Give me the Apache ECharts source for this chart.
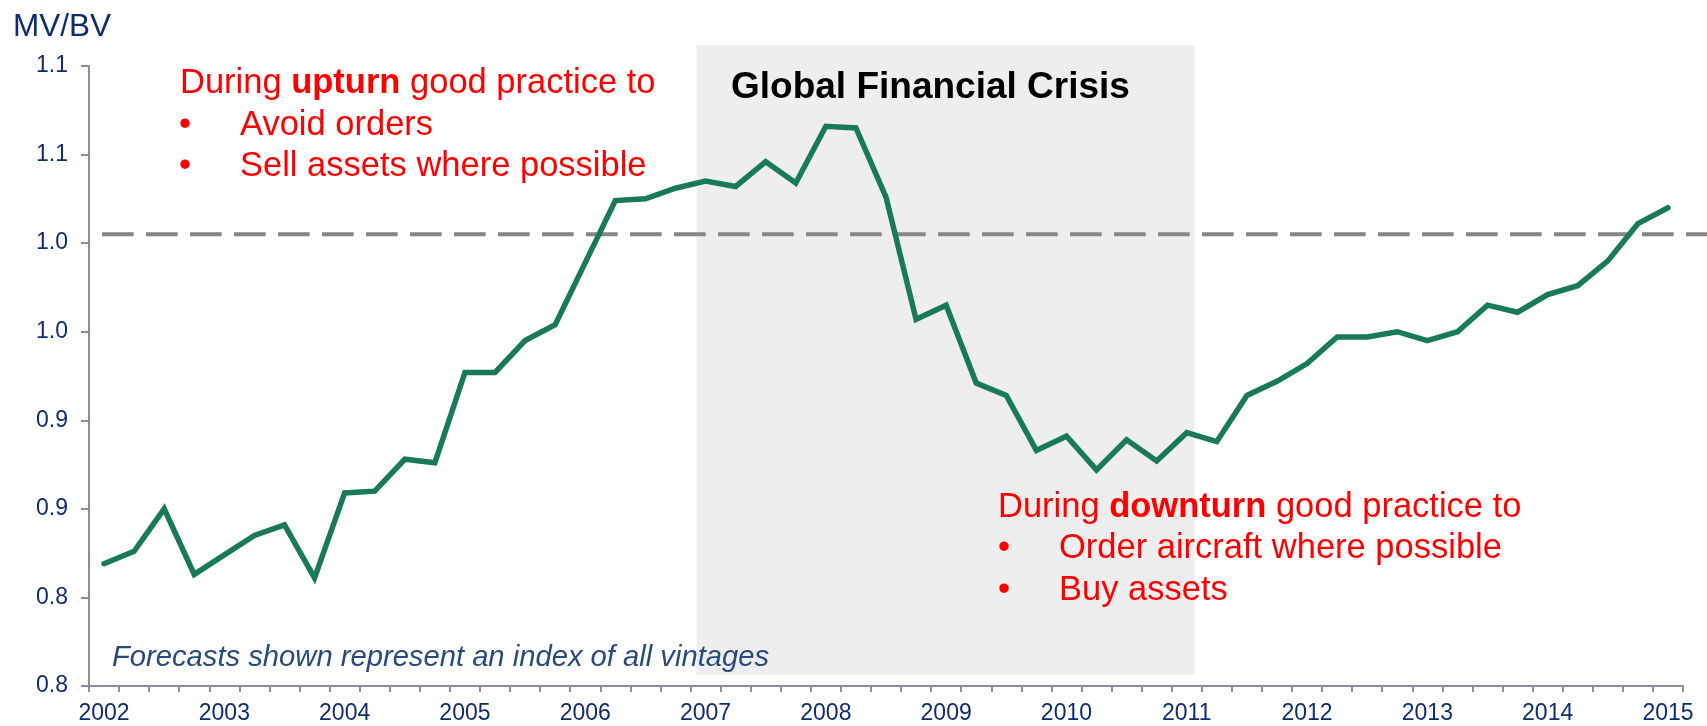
<!DOCTYPE html>
<html>
<head>
<meta charset="utf-8">
<script src="https://cdn.jsdelivr.net/npm/echarts@6/dist/echarts.min.js"></script>
<style>
  html, body { margin: 0; padding: 0; background: #ffffff; }
  #chart { width: 1707px; height: 726px; }
</style>
</head>
<body>
<div id="chart"></div>
<script>
// Years shown on the time axis; the series is quarterly from 2002 Q1 to 2015 Q1
const years = [2002, 2003, 2004, 2005, 2006, 2007, 2008, 2009, 2010, 2011, 2012, 2013, 2014, 2015];
const quarters = [];
years.forEach(function (y) {
  ['Q1', 'Q2', 'Q3', 'Q4'].forEach(function (q) { quarters.push(y + ' ' + q); });
});
quarters.length = 53; // last observation is 2015 Q1

// Market value / book value index, one value per quarter
const mvbv = [
  0.819, 0.826, 0.850, 0.813, 0.824, 0.835, 0.841, 0.811, 0.859, 0.860,
  0.878, 0.876, 0.927, 0.927, 0.945, 0.954, 0.989, 1.024, 1.025, 1.031,
  1.035, 1.032, 1.046, 1.034, 1.066, 1.065, 1.026, 0.957, 0.965, 0.921,
  0.914, 0.883, 0.891, 0.872, 0.889, 0.877, 0.893, 0.888, 0.914, 0.922,
  0.932, 0.947, 0.947, 0.950, 0.945, 0.950, 0.965, 0.961, 0.971, 0.976,
  0.990, 1.011, 1.020
];

// Value-axis tick labels (one decimal place), from 0.75 up to 1.10
const yTickLabels = ['0.8', '0.8', '0.9', '0.9', '1.0', '1.0', '1.1', '1.1'];
const yMin = 0.75, yMax = 1.10, yStep = 0.05;

// Long-run average level (dashed reference line), drawn across the full width
const longRunAverage = 1.005;
const averageSpan = [0, 1];

// Global Financial Crisis period, in fractional years
const crisisStart = 2007.05;
const crisisEnd = 2011.19;

const FONT = "'Liberation Sans', Arial, Helvetica, sans-serif";
const NAVY = '#0f2c6e';
const AXIS = '#8b8da3';
const RED = '#ff0000';
const NOTE_SIZE = 34.5;

const chart = echarts.init(document.getElementById('chart'), null, { renderer: 'canvas' });

function noteText(x, y, text) {
  return {
    type: 'text', x: x, y: y, z: 10,
    style: { text: text, fill: RED, font: NOTE_SIZE + 'px ' + FONT,
             textAlign: 'left', textVerticalAlign: 'middle', align: 'left', verticalAlign: 'middle' }
  };
}

function noteHeading(x, y, boldWord) {
  return {
    type: 'text', x: x, y: y, z: 10,
    style: {
      text: '{n|During }{b|' + boldWord + '}{n| good practice to}',
      textAlign: 'left', textVerticalAlign: 'middle', align: 'left', verticalAlign: 'middle',
      rich: {
        n: { fill: RED, color: RED, fontSize: NOTE_SIZE, fontFamily: FONT },
        b: { fill: RED, color: RED, fontSize: NOTE_SIZE, fontFamily: FONT, fontWeight: 'bold' }
      }
    }
  };
}

const option = {
  animation: false,
  backgroundColor: '#ffffff',
  grid: [
    { left: 89, right: 24, top: 66, bottom: 40 },   // main plot
    { left: 89, right: 24, top: 45, bottom: 51 },   // crisis band
    { left: 102, right: 0, top: 66, bottom: 40 }    // average line
  ],
  xAxis: [
    {
      type: 'category',
      gridIndex: 0,
      data: quarters,
      boundaryGap: true,
      axisLine: { show: true, lineStyle: { color: AXIS, width: 2 } },
      axisTick: { show: true, interval: 0, length: 6, inside: false, lineStyle: { color: AXIS, width: 2 } },
      axisLabel: {
        interval: 3,
        margin: 16,
        color: NAVY,
        fontFamily: FONT,
        fontSize: 23,
        formatter: function (v) { return v.split(' ')[0]; }
      },
      splitLine: { show: false }
    },
    { type: 'value', gridIndex: 1, min: years[0], max: 2015.25, show: false },
    { type: 'value', gridIndex: 2, min: 0, max: 1, show: false }
  ],
  yAxis: [
    {
      type: 'value',
      gridIndex: 0,
      min: yMin,
      max: yMax,
      interval: yStep,
      axisLine: { show: true, lineStyle: { color: AXIS, width: 2 } },
      axisTick: { show: true, length: 8, lineStyle: { color: AXIS, width: 2 } },
      axisLabel: {
        margin: 21,
        color: NAVY,
        fontFamily: FONT,
        fontSize: 23,
        formatter: function (v) { return yTickLabels[Math.round((v - yMin) / yStep)]; }
      },
      splitLine: { show: false }
    },
    { type: 'value', gridIndex: 1, min: 0, max: 1, show: false },
    { type: 'value', gridIndex: 2, min: yMin, max: yMax, interval: yStep, show: false }
  ],
  series: [
    {
      name: 'crisis',
      type: 'line',
      xAxisIndex: 1,
      yAxisIndex: 1,
      data: [],
      z: 0,
      silent: true,
      markArea: {
        silent: true,
        itemStyle: { color: '#eeeeee' },
        data: [[{ xAxis: crisisStart }, { xAxis: crisisEnd }]]
      }
    },
    {
      name: 'average',
      type: 'line',
      xAxisIndex: 2,
      yAxisIndex: 2,
      data: averageSpan.map(function (x) { return [x, longRunAverage]; }),
      z: 2,
      silent: true,
      showSymbol: false,
      lineStyle: { color: '#878787', width: 4, type: [31.7, 12.3] }
    },
    {
      name: 'MV/BV',
      type: 'line',
      xAxisIndex: 0,
      yAxisIndex: 0,
      data: mvbv,
      z: 3,
      showSymbol: false,
      lineStyle: { color: '#197a56', width: 5.5, cap: 'round', join: 'miter' }
    }
  ],
  graphic: [
    {
      type: 'text', left: 13, top: 11, z: 10,
      style: { text: 'MV/BV', fill: NAVY, font: '31.5px ' + FONT }
    },
    {
      type: 'text', x: 731, y: 88, z: 10,
      style: { text: 'Global Financial Crisis', fill: '#000000', font: 'bold 37px ' + FONT,
               textAlign: 'left', textVerticalAlign: 'middle', align: 'left', verticalAlign: 'middle' }
    },
    // upturn note
    noteHeading(180, 83, 'upturn'),
    noteText(179, 125, '\u2022'),
    noteText(240, 125, 'Avoid orders'),
    noteText(179, 166, '\u2022'),
    noteText(240, 166, 'Sell assets where possible'),
    // downturn note
    noteHeading(998, 507, 'downturn'),
    noteText(998, 548, '\u2022'),
    noteText(1059, 548, 'Order aircraft where possible'),
    noteText(998, 590, '\u2022'),
    noteText(1059, 590, 'Buy assets'),
    // footnote
    { type: 'text', x: 112, y: 658, z: 10,
      style: { text: 'Forecasts shown represent an index of all vintages', fill: '#284a7c', font: 'italic 29.2px ' + FONT,
               textAlign: 'left', textVerticalAlign: 'middle', align: 'left', verticalAlign: 'middle' } }
  ]
};

chart.setOption(option);
</script>
</body>
</html>
